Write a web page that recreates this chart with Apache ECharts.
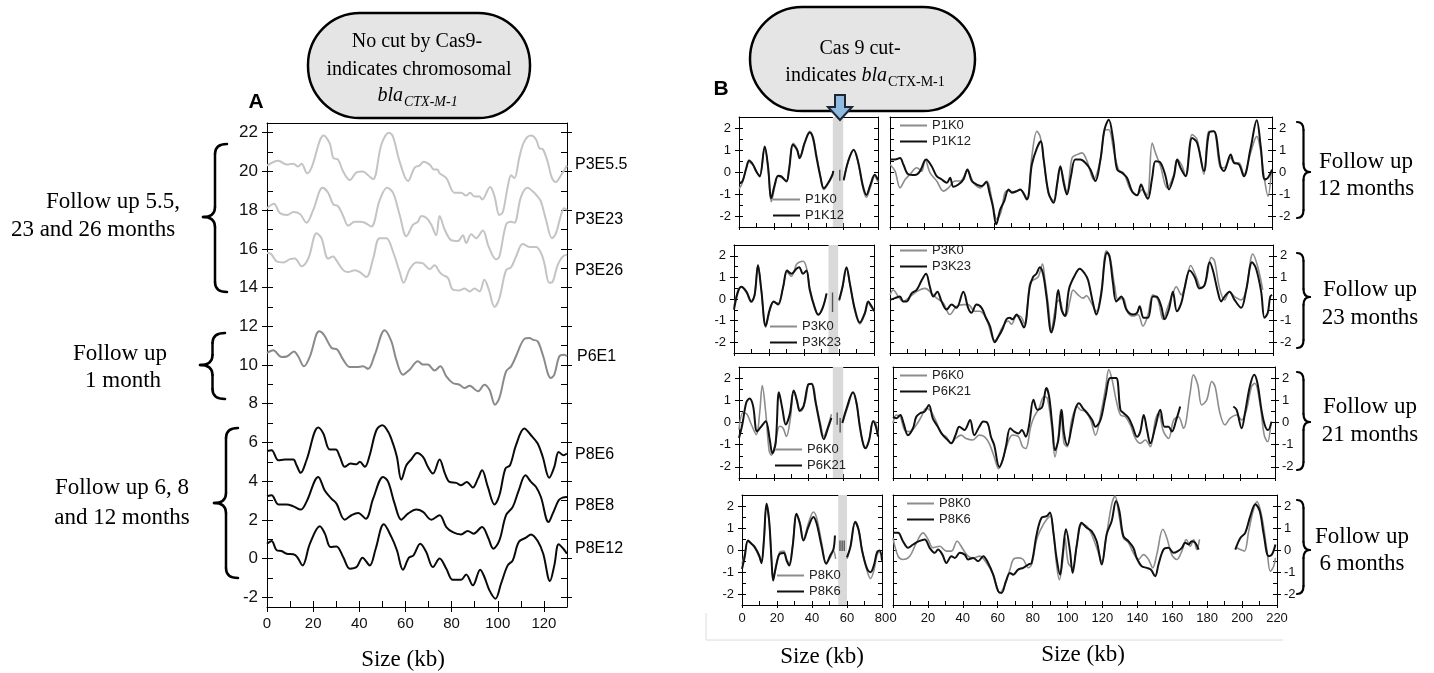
<!DOCTYPE html>
<html><head><meta charset="utf-8">
<script src="https://cdn.jsdelivr.net/npm/echarts@6/dist/echarts.min.js"></script>
<style>html,body{margin:0;padding:0;background:#fff}#c{width:1434px;height:673px}</style>
</head><body><div id="c"></div>
<script>
// ---------- Tick labels ----------
const A_X_MAJOR = [0,20,40,60,80,100,120];
const A_X_MINOR = [10,20,30,40,50,60,70,80,90,100,110,120];
const A_Y_MAJOR = [-2,0,2,4,6,8,10,12,14,16,18,20,22];
const A_Y_MINOR = [-2,-1,0,1,2,3,4,5,6,7,8,9,10,11,12,13,14,15,16,17,18,19,20,21,22];
const B_Y_MAJOR = [-2,-1,0,1,2];
const B_Y_MINOR = [-2,-1.5,-1,-0.5,0,0.5,1,1.5,2];
const BL_X_MAJOR = [0,20,40,60,80];
const BL_X_MINOR = [10,20,30,40,50,60,70];
const BR_X_MAJOR = [0,20,40,60,80,100,120,140,160,180,200,220];
const BR_X_MINOR = [10,20,30,40,50,60,70,80,90,100,110,120,130,140,150,160,170,180,190,200,210];

// ---------- Panel A series ----------
const P3E55 = [[0,20.3],[4.9,20.55],[8.5,20.35],[11.4,20.4],[13.5,20.25],[15,20.4],[17.4,19.9],[19.3,20.2],[24.6,21.85],[27.2,21.45],[28.7,20.7],[30.8,20.6],[33,20.0],[35.9,19.55],[38.8,19.95],[41.6,20.0],[43.8,19.8],[46,19.6],[49.6,21.4],[52.9,22.0],[54.6,21.8],[57.5,20.5],[61.1,19.5],[64,20.2],[66.1,20.3],[67.9,20.5],[70.5,20.35],[72.3,20.1],[73.8,20.1],[74.8,19.9],[77.7,19.65],[81.3,18.9],[84.1,18.9],[86.3,18.75],[88,18.9],[89.9,18.7],[92.1,18.7],[93.2,18.55],[96.7,19.2],[98.6,18.7],[100.7,17.75],[102.2,17.9],[104.3,19.2],[105.8,19.8],[107.2,19.65],[109.4,20.75],[111.5,21.55],[114.4,21.85],[116.6,21.65],[118,21.2],[119.5,21.15],[121.6,20.5],[123.5,19.65],[125.2,19.45],[127.4,19.8],[129.5,20.2],[130,20.3]];
const P3E23 = [[0,18.1],[3,18.33],[5.6,17.85],[8.8,17.75],[11.4,17.9],[14.3,17.8],[17.1,17.35],[20,18.0],[24.1,19.15],[26.5,18.9],[28.7,18.3],[30.8,18.2],[33,17.7],[35.2,17.2],[38,17.4],[40.2,17.4],[42.4,17.35],[45.2,17.15],[48.8,18.5],[52,19.15],[54.6,18.9],[57.5,17.75],[60.4,16.65],[63.3,17.25],[65.4,17.4],[66.9,17.7],[69,17.6],[71.2,17.25],[73.3,16.7],[74.8,17.7],[77,17.0],[79.8,16.45],[82.7,16.4],[84.9,16.7],[86.3,16.3],[88.5,16.75],[90.6,16.55],[93.5,16.95],[96.1,16.1],[99.3,15.45],[100.7,15.6],[103.6,17.25],[105.8,17.4],[107.2,17.35],[110.1,18.7],[113,19.15],[115.1,18.97],[117.3,18.7],[118.7,18.45],[120.9,17.5],[123.5,16.55],[125.2,16.8],[127.4,17.75],[128.8,18.1],[130,18.0]];
const P3E26 = [[0,15.78],[1.7,15.74],[4.2,15.35],[7.1,15.3],[9.9,15.47],[12.1,15.5],[15,15.1],[17.9,15.5],[21.5,16.8],[23.6,16.55],[26.5,15.5],[28.7,15.6],[30.1,15.4],[33,14.9],[35.2,14.8],[38,14.9],[40.2,14.8],[43.1,14.55],[46,15.5],[48.8,16.55],[51.7,16.55],[54.6,15.85],[57.5,14.8],[59.2,14.25],[61.8,14.95],[64.7,15.3],[67.6,15.25],[70.5,14.95],[72.6,15.15],[74.8,14.8],[76.2,14.65],[78.4,14.5],[80.5,13.9],[83.4,13.85],[85.6,13.95],[87.8,13.8],[89.9,13.95],[92.1,13.8],[94.2,14.4],[96.1,13.9],[98.6,13.0],[100.7,13.45],[103.6,14.9],[105.8,15.05],[107.9,15.6],[110.8,16.25],[113.7,16.1],[116.6,16.1],[118.7,15.8],[120.2,15.25],[122.3,14.25],[123.8,14.3],[125.9,15.15],[128.1,15.6],[130,15.7]];
const P6E1 = [[0,10.62],[2.7,10.76],[6.3,10.41],[8.8,10.45],[11.7,10.7],[13.5,10.45],[16,9.93],[18.6,10.45],[22.6,11.74],[24.6,11.57],[28,10.88],[30.4,10.8],[33,10.28],[35.9,9.9],[38.8,9.9],[41.6,9.93],[43.8,9.8],[46.7,10.53],[51,11.8],[53.9,11.22],[56,10.28],[58.9,9.5],[61.8,9.76],[65.4,10.2],[67.6,10.02],[69.7,10.02],[72.6,9.72],[75.1,9.93],[77.7,9.41],[80.5,9.07],[83.4,8.98],[85.6,8.81],[87.8,8.93],[91.4,8.64],[94.2,8.98],[96.4,8.72],[98.8,7.95],[100.7,8.3],[103.6,9.67],[105.8,9.93],[107.9,10.45],[111.5,11.35],[113.7,11.4],[115.1,11.31],[117.3,11.22],[119.5,10.53],[123,9.33],[124.5,9.5],[126.7,10.45],[128.8,10.53],[130,10.45]];
const P8E6 = [[0,5.56],[2,5.6],[4.9,5.08],[7.8,5.12],[11.4,5.12],[12.8,4.82],[14.6,4.43],[17.1,5.08],[22.2,6.77],[24.4,6.46],[27.2,5.63],[29.8,5.63],[31.6,5.25],[33.7,4.74],[36.2,4.91],[38.8,4.87],[40.2,5.0],[42.4,4.74],[44.5,5.34],[47.4,6.63],[50,6.89],[52.5,6.55],[54.6,5.94],[56.3,5.25],[58.2,4.08],[60.4,4.82],[62.5,5.12],[65,5.46],[67.6,5.25],[69.7,4.74],[71.9,4.39],[74.8,5.12],[77,4.43],[79.1,3.96],[82,3.91],[84.1,3.79],[86.6,3.96],[89.2,3.67],[91.4,4.13],[93.2,4.56],[95.7,3.7],[98.6,2.8],[100.7,3.27],[103.3,4.65],[105.3,4.82],[107.9,5.86],[111.5,6.72],[114.4,6.37],[117.3,5.94],[119.5,5.25],[122.3,4.18],[124.5,4.74],[126.4,5.51],[128.4,5.34],[130,5.43]];
const P8E8 = [[0,3.22],[2,3.27],[4.9,2.8],[8.5,2.8],[11.4,2.7],[14.6,2.53],[17.1,2.93],[22.2,4.22],[25.1,3.5],[27.9,3.1],[30.1,2.84],[33.7,2.01],[36.6,2.24],[39.5,2.36],[42.8,2.06],[46,3.1],[50.3,4.22],[52.5,3.96],[55.3,2.84],[58.2,2.01],[61.1,2.32],[64.7,2.53],[67.6,2.41],[71.2,2.01],[74.8,2.24],[77.7,1.63],[80.5,1.37],[84.1,1.25],[87,1.43],[89.5,1.29],[93.2,1.63],[95.7,1.12],[98.1,0.51],[100.7,0.94],[103.6,2.24],[106.5,2.67],[109.1,3.53],[112,4.3],[114.4,3.96],[116.6,3.7],[118.7,3.18],[122,1.89],[123.8,2.32],[126.4,3.01],[128.1,3.15],[130,3.18]];
const P8E12 = [[0,0.77],[2,0.91],[4.2,0.43],[6.3,0.39],[8.5,0.25],[11.4,0.22],[13.1,0.08],[15.4,-0.35],[18.6,0.77],[22.9,1.67],[25.1,1.29],[27.5,0.6],[30.1,0.63],[33,0.08],[35.9,-0.52],[38.8,-0.44],[41.4,0.05],[44.5,-0.35],[47.1,0.51],[50.6,1.77],[53.9,1.12],[56.3,0.43],[58.9,-0.57],[61.5,0.05],[63.5,0.17],[66.4,0.77],[69,0.34],[71.9,-0.44],[74.8,0],[77.7,-0.52],[80.5,-1.09],[84.1,-1.09],[86.3,-0.82],[89.2,-1.38],[92.4,-0.57],[94.2,-0.95],[96.4,-1.64],[99,-2.07],[101.4,-1.3],[104.3,-0.35],[106.5,-0.09],[109.1,0.86],[112.2,1.08],[114.4,1.25],[117.3,0.91],[119.7,0.25],[122.6,-1.16],[124.5,-0.35],[126.4,0.74],[128.4,0.51],[130,0.25]];

// ---------- Panel B series (left: 0-80 kb, right: 0-220 kb) ----------
const P1K0_L = [[0,-0.78],[1.9,-0.5],[4.2,0.2],[5.8,0.45],[8.1,0.3],[10,0.0],[11.9,-0.15],[14.8,1.1],[16.7,0.2],[18.6,-1.35],[20.5,-0.7],[22.5,-0.2],[24.4,-0.25],[27.3,-0.4],[28.8,0.15],[31.1,1.3],[33.4,1.05],[34.9,0.68],[37.8,1.35],[40.7,1.85],[42.6,1.6],[44.5,0.8],[46.8,-0.15],[48.8,-0.8],[51.2,-0.55],[53.7,-0.2],[54.3,-0.05],[56,null],[60.3,-0.4],[62.8,0.45],[66,1.0],[68.5,0.45],[71.4,-0.75],[73.3,-1.15],[75.6,-0.7],[78.1,-0.2],[80,-0.45]];
const P1K12_L = [[0,-0.48],[1.9,-0.43],[4.2,0.17],[5.8,0.52],[8.1,0.33],[10,0.02],[11.9,-0.2],[14.8,1.16],[16.7,0.25],[18.6,-1.19],[20.5,-0.59],[22.5,-0.17],[24.4,-0.2],[27.3,-0.43],[28.8,0.1],[31.1,1.24],[33.4,1.01],[34.9,0.63],[37.8,1.32],[40.7,1.8],[42.6,1.54],[44.5,0.71],[46.8,-0.2],[48.8,-0.74],[51.2,-0.51],[53.7,-0.13],[54.3,0.05],[56,null],[60.3,-0.36],[62.8,0.48],[66,1.01],[68.5,0.48],[71.4,-0.66],[73.3,-1.04],[75.6,-0.59],[78.1,-0.13],[80,-0.36]];
const P1K0_R = [[0,0.34],[2.9,0.04],[5.8,-0.72],[8.7,-0.34],[11.5,-0.11],[15.4,0.19],[18.3,0.04],[20.2,0.57],[23.1,-0.04],[26.9,-0.41],[30.8,-0.87],[33.7,-0.72],[37.5,-0.41],[40.4,-0.41],[44.6,0.04],[48.1,-0.49],[51.9,-0.72],[55.8,-0.41],[58.7,-1.25],[61.5,-2.15],[63.8,-1.85],[67.3,-0.85],[71.2,-0.9],[75,-0.8],[78.8,-1.2],[81.7,0.72],[84.6,1.85],[86.5,1.6],[88.5,0.55],[91.3,-1.0],[94.2,-1.3],[98.1,0.2],[101.9,-0.9],[104.8,0.64],[107.7,0.79],[110.6,0.87],[113.5,0.49],[117.3,-0.34],[121.2,0.57],[124,1.92],[126,1.92],[128.8,1.0],[131.7,0.1],[134.6,-0.05],[138.5,-0.8],[142.3,-1.05],[145.2,-0.8],[148.1,-1.05],[151,1.32],[152.9,0.87],[155.8,0.26],[159.6,-0.72],[163.5,-0.1],[165.4,0.57],[168.3,0.26],[170.2,-0.19],[174,1.7],[176.9,1.47],[180.8,-0.1],[183.7,1.85],[186.5,1.85],[190.4,0.19],[192.3,0.19],[196.2,0.64],[198.1,0.42],[201,0.42],[203.8,-0.11],[207.7,0.87],[211.2,1.62],[213.5,0.94],[215.4,-0.19],[217.7,-1.1],[219.6,0.0]];
const P1K12_R = [[0,0.57],[2.9,0.57],[5.8,0.64],[7.7,0.34],[10.6,-0.11],[14.4,-0.14],[17.3,0.04],[20.8,0.57],[24,0.26],[26.9,-0.19],[29.8,-0.34],[32.7,-0.49],[34.6,-0.26],[36.5,-0.67],[39.4,-0.57],[42.3,-0.34],[44.6,0.11],[47.1,-0.41],[50,-0.57],[52.9,-0.64],[55.4,-0.46],[57.3,-0.94],[59.2,-1.55],[61.2,-2.38],[63.5,-1.7],[65.8,-1.32],[68.3,-0.79],[70.2,-0.94],[73.1,-0.87],[75,-0.79],[78.8,-1.25],[81.7,0.34],[84.6,1.09],[86.9,1.4],[88.5,0.57],[91.3,-0.94],[94.2,-1.4],[96.2,-0.57],[98.1,0.26],[100,-0.49],[101.9,-1.02],[104.2,-0.19],[106.7,0.57],[109.6,0.57],[112.5,0.42],[115.4,0.11],[118.3,-0.41],[121.2,0.57],[123.5,1.92],[126,2.38],[128.5,1.47],[130.8,0.11],[133.7,-0.04],[136.5,-0.26],[139.4,-0.87],[142.3,-1.06],[144.6,-0.57],[146.5,-0.94],[148.5,-1.22],[151,-0.26],[152.9,0.49],[155.8,0.42],[158.7,-0.19],[160.6,-0.79],[163.5,-0.19],[165.4,0.57],[167.3,0.19],[170.2,-0.19],[174,1.55],[176.9,1.32],[180.8,0.04],[183.7,1.77],[186.5,1.85],[190.4,0.26],[192.3,0.04],[196.2,0.79],[198.1,0.42],[201,0.34],[203.8,-0.19],[207.7,1.09],[211.2,2.35],[213.5,1.17],[215.8,-0.34],[217.7,-0.26],[220,0.11]];

const P3K0_L = [[0,-0.35],[2.3,0.4],[4.2,0.55],[7.1,0.3],[9.9,-0.15],[11.8,0.2],[13.7,1.6],[15.6,0.4],[18.1,-1.3],[20.4,-0.55],[22.7,-0.15],[25.2,-0.2],[28.1,0.55],[30.3,1.25],[32.8,1.05],[35.7,1.6],[37.2,1.7],[39.5,1.75],[41.4,1.45],[43.3,0.5],[46.2,-0.4],[48.1,-0.75],[50.6,-0.45],[52.9,0.2],[55,null],[60.1,-0.1],[62,0.5],[64.3,1.45],[66.2,0.7],[69.1,-0.55],[71.9,-1.15],[74.8,-0.7],[76.7,-0.2],[78.6,-0.4],[80,-0.6]];
const P3K23_L = [[0,-0.49],[2.3,0.34],[4.2,0.57],[7.1,0.34],[9.9,-0.11],[11.8,0.19],[13.7,1.55],[15.6,0.42],[18.1,-1.25],[20.4,-0.49],[22.7,-0.11],[25.2,-0.26],[28.1,0.57],[30.3,1.32],[32.8,1.17],[35.7,1.4],[37.2,1.47],[39.5,1.17],[41.4,1.32],[43.3,0.42],[46.2,-0.42],[48.1,-0.72],[50.6,-0.42],[52.9,0.26],[55,null],[60.1,-0.04],[62,0.57],[64.3,1.47],[66.2,0.72],[69.1,-0.49],[71.9,-1.09],[74.8,-0.64],[76.7,-0.11],[78.6,-0.34],[80,-0.55]];
const P3K0_R = [[0,0.19],[1.9,0.42],[4.8,0.11],[7.6,-0.11],[10.5,0.04],[15.3,0.34],[20.1,0.49],[23.9,0.26],[26.8,0.04],[30.6,-0.19],[34.4,-0.72],[38.2,-0.34],[42.1,-0.26],[44.9,-0.26],[48.8,-0.57],[51.6,-0.57],[55.4,-0.94],[60.2,-1.92],[65,-1.25],[67.9,-1.02],[69.8,-1.17],[72.7,-0.79],[74.6,-0.79],[77.4,-1.17],[80.3,0.72],[82.2,0.87],[85.1,1.02],[87.6,1.62],[88.9,0.94],[90.8,-0.19],[92.7,-1.4],[95.6,-0.19],[97.5,-0.04],[99.4,-0.64],[101,-0.79],[103.3,-0.11],[105.2,0.42],[108,0.19],[110.9,0.04],[112.8,0.15],[115.7,-0.19],[118.5,-0.57],[121.4,0.42],[124.3,2.23],[126.2,2.0],[129.1,0.57],[131,-0.04],[133.8,0.04],[136.7,-0.64],[139.6,-0.79],[142.4,-0.72],[145.3,-1.25],[148.2,-0.72],[151,0.19],[153.9,-0.04],[156.8,-0.94],[159.7,-0.34],[162.5,0.26],[164.4,0.57],[167.3,0.19],[170.2,0.87],[172.7,1.55],[175.9,1.02],[178.8,0.49],[181.6,0.87],[184.5,1.92],[186.4,1.77],[189.3,0.49],[192.2,-0.04],[195,0.34],[197.9,0.11],[201.7,-0.04],[204.6,0.42],[208.4,2.08],[211.3,1.47],[214.1,0.42]];
const P3K23_R = [[0,-0.04],[2.9,0.04],[5.7,0.11],[7.6,-0.11],[9.6,-0.11],[12.4,0.26],[15.3,0.42],[18.2,0.87],[20.7,1.17],[22.9,0.57],[24.9,0.11],[27.2,0.34],[29.6,-0.11],[32.5,-0.49],[35.4,-0.26],[38.2,-0.41],[42.1,0.34],[44.9,-0.41],[46.8,-0.64],[49.7,-0.26],[52.6,-0.41],[55.1,-0.87],[57.4,-1.25],[60.2,-2.0],[62.1,-1.77],[64.6,-1.4],[66.9,-0.94],[68.8,-0.87],[70.4,-0.94],[72.7,-0.72],[74.6,-0.94],[76.9,-1.32],[80.3,0.57],[82.2,1.02],[84.1,1.17],[86,1.47],[87.9,1.17],[89.9,0.11],[92.7,-1.55],[94.6,-0.94],[96.6,0.42],[98.5,-0.49],[100.4,-0.79],[102.9,0.49],[106.1,1.09],[109,1.4],[111.9,1.17],[113.8,0.87],[116.6,-0.19],[118.5,-0.72],[121.4,0.26],[123.3,1.77],[124.7,2.15],[126.2,1.92],[128.1,0.72],[130,-0.11],[132.9,0.11],[135.8,-0.49],[139.6,-0.72],[141.9,-0.64],[143.4,-0.34],[145.7,-0.87],[148.2,-0.87],[151,0.11],[153,0.11],[155.8,-0.34],[157.7,-0.94],[160.2,-0.49],[162.5,0.34],[164.8,-0.57],[167.3,-0.19],[169.2,0.49],[172.1,1.32],[175,1.02],[177.8,0.49],[180.7,0.64],[183.6,1.7],[185.5,1.32],[188.3,0.34],[190.2,-0.11],[192.2,0.11],[195,0.34],[197.9,-0.04],[201.7,-0.41],[204.6,0.42],[208,1.7],[210.3,1.4],[213.2,0.34],[215.1,-0.87],[217,-0.64],[218.4,0.11],[219.5,0.19]];

const P6K0_L = [[0,-0.32],[2.3,0.44],[4.6,0.37],[7.1,-0.09],[10,-0.55],[11.9,0.44],[13.4,1.66],[15.4,0.44],[17.3,-1.24],[18.6,-1.47],[20.5,-1.08],[23.4,-0.17],[25.3,-0.25],[27.3,-0.63],[29.6,0.21],[31.5,1.44],[34,0.75],[35.9,0.52],[38.4,1.05],[40.3,1.74],[42.2,1.74],[44.5,0.82],[46.8,-0.02],[48.8,-0.63],[51.2,-0.17],[53.2,0.37],[56,null],[59.9,0.06],[62.8,0.75],[65.6,1.36],[67.6,0.85],[69.5,-0.1],[72.4,-1.16],[74.9,-0.8],[77.2,0.06],[78.7,0.0],[80,-0.55]];
const P6K21_L = [[0,-0.7],[1.9,-0.09],[4.2,0.9],[6.1,1.08],[8.1,0.75],[10.4,-0.4],[12.9,-0.17],[15.4,0.06],[17.7,-0.78],[19.2,-1.39],[21.1,-0.93],[23,1.36],[25,0.6],[26.9,-0.09],[29.2,0.37],[31.5,1.44],[33.4,0.98],[34.9,0.52],[37.2,0.75],[39.7,1.69],[41.7,1.74],[44.1,0.9],[46.4,-0.02],[48.8,-0.75],[51.2,-0.25],[53.2,0.21],[56,null],[59.5,-0.02],[61.8,0.6],[65.6,1.36],[67.6,0.9],[69.5,-0.17],[71.4,-0.93],[72.9,-1.16],[74.9,-0.78],[77.2,0.06],[78.7,-0.17],[80,-0.63]];
const P6K0_R = [[0,-0.04],[1.9,0.34],[4.2,0.26],[6.7,-0.34],[9.6,-0.41],[13.4,-0.11],[16.3,0.26],[19.1,0.64],[22,0.49],[24.9,0.04],[27.7,-0.49],[30.6,-0.64],[33.5,-0.94],[36,-0.72],[39.2,-0.57],[42.1,-0.72],[45.9,-0.79],[49.7,-0.57],[52.6,-0.64],[55.4,-0.94],[58.3,-1.55],[60.8,-2.08],[63.1,-1.7],[66,-0.94],[68.8,-0.57],[72.3,-0.64],[74.6,-1.09],[76.5,-1.17],[79.3,-0.19],[81.3,0.26],[84.1,0.64],[87,1.17],[88.9,1.09],[91.4,-0.19],[93.3,-1.55],[95.2,-0.64],[96.6,0.57],[98.5,-0.94],[100.4,-1.09],[102.9,0.11],[106.1,0.72],[108,0.57],[110.9,0.49],[113.8,0.11],[116.6,-0.57],[120.1,0.57],[122.4,1.55],[124.3,2.38],[126.2,1.92],[128.5,1.02],[131,0.34],[133.8,0.26],[136.7,-0.11],[139.6,-0.72],[142.4,-0.94],[145.3,-0.79],[148.2,-1.09],[151.1,0.11],[153,0.42],[155.8,-0.41],[158.7,-0.72],[161.6,0.11],[164.4,0.26],[167.3,-0.26],[171.1,1.32],[173,2.15],[175.5,1.7],[177.8,0.79],[180.7,1.02],[183.6,1.85],[185.5,1.62],[188.3,0.42],[191.2,-0.11],[194.1,0.19],[197.9,0.34],[200.8,0.11],[203.6,0.57],[206.5,1.62],[208.4,1.77],[211.3,0.87],[213.8,-0.57],[215.7,-0.87],[217.6,-0.04]];
const P6K21_R = [[0,0.26],[1.9,0.19],[4.2,0.34],[6.1,-0.04],[8.6,-0.57],[11.5,-0.26],[13.4,0.26],[15.7,0.42],[18.2,0.49],[20.7,0.79],[22.9,0.19],[25.8,-0.19],[28.7,-0.57],[31.5,-0.79],[33.5,-0.94],[36,-0.57],[38.2,-0.19],[41.1,-0.34],[44.4,0.11],[46.8,-0.57],[49.7,-0.19],[52,0.04],[54.5,-0.04],[56.4,-0.64],[58.3,-1.02],[61.2,-2.0],[63.1,-1.7],[65,-1.09],[67.5,-0.26],[69.8,-0.41],[72.3,-0.49],[74.2,-0.34],[76.5,-0.64],[78.4,-0.11],[80.9,1.02],[83.2,0.57],[86,0.72],[88.3,1.55],[89.9,1.17],[91.8,-0.19],[93.3,-1.25],[95.2,-0.79],[97.1,0.57],[98.5,-0.49],[100.4,-1.02],[102.9,-0.19],[105.2,0.64],[107.1,0.87],[109.4,0.64],[111.9,0.42],[114.7,0.11],[116.6,-0.19],[119.5,0.11],[122.4,1.17],[125.2,2.0],[128.5,2.0],[131,0.57],[132.9,0.42],[135.8,0.19],[138,-0.19],[140.5,-0.64],[142.4,-0.41],[144.4,0.34],[146.3,-0.34],[148.2,-0.94],[151.1,-0.19],[153.9,0.57],[156.4,-0.19],[158.7,-0.19],[160.6,-0.41],[163.1,0.11],[165.4,0.72],[180,null],[196,0.72],[197.9,0.57],[200.8,-0.26],[202.7,0.42],[205.5,1.62],[208,2.15],[209.9,1.77],[212.2,0.57],[214.1,-0.11],[216,-0.34],[218,0.04]];

const P8K0_L = [[0,-0.63],[1.5,-0.2],[3.4,0.4],[5.4,0.3],[7.3,0.1],[9.8,-0.3],[11.1,-0.55],[12.5,0.4],[14,2.0],[15.5,1.3],[16.9,-0.5],[17.8,-1.3],[19.3,-0.85],[21.6,-0.1],[23.9,-0.05],[25.5,-0.4],[27,-0.6],[28.9,0.2],[31.2,1.6],[33.1,1.25],[35.1,0.5],[37.9,1.2],[40.8,1.73],[42.7,1.45],[45.6,0.3],[48.1,-0.6],[50.4,-0.35],[52.3,-0.05],[53.5,-0.4],[55,null],[60,-0.4],[61.9,0.1],[64.7,1.3],[66.7,0.95],[68.6,0.0],[71.5,-0.95],[73.4,-1.3],[75.3,-0.95],[77.2,-0.2],[78.7,-0.1],[80,-0.3]];
const P8K6_L = [[0,-0.86],[1.5,-0.33],[3.4,0.43],[5.4,0.28],[7.3,0.13],[9.8,-0.25],[11.1,-0.6],[12.5,0.43],[14,2.1],[15.5,1.35],[16.9,-0.48],[17.8,-1.39],[19.3,-0.78],[21.6,-0.17],[23.9,-0.14],[25.5,-0.48],[27,-0.71],[28.9,0.13],[31.2,1.65],[33.1,1.19],[35.1,0.43],[37.9,1.04],[40.8,1.5],[42.7,1.19],[45.6,0.13],[48.1,-0.63],[50.4,-0.25],[52.3,0.05],[53.1,0.66],[55,null],[60,-0.33],[61.9,0.13],[64.7,1.27],[66.7,0.89],[68.6,-0.02],[71.5,-0.86],[73.4,-1.01],[75.3,-0.71],[77.2,-0.1],[78.7,-0.02],[80,-0.48]];
const P8K0_R = [[0,0.55],[2.9,-0.28],[5.7,-0.43],[9.6,-0.28],[13.4,0.33],[17.2,0.78],[20.1,0.48],[22.9,0.1],[26.8,0.17],[30.6,-0.05],[33.5,-0.05],[36.7,0.4],[40.2,0.02],[43,-0.28],[45.9,-0.36],[49.7,-0.28],[53.6,-0.59],[57.4,-1.12],[61.2,-1.95],[64.1,-1.57],[67,-0.89],[68.9,-0.43],[71.7,-0.36],[74.6,-0.43],[77.5,-0.81],[79.4,-0.66],[82.3,0.48],[85.1,1.01],[88,1.39],[90.3,1.54],[92.2,0.55],[93.7,-0.66],[95.3,-1.35],[97.2,-0.51],[98.5,0.55],[100.4,-0.59],[102.9,-0.81],[105.6,0.4],[108.1,1.16],[111,1.09],[113.8,0.71],[116.7,0.1],[119.6,-0.51],[122.4,0.71],[125.3,2.08],[127.2,2.45],[129.7,1.47],[132,0.55],[134.9,0.33],[137.7,-0.13],[140.6,-0.43],[143.5,-0.21],[146.4,-0.43],[148.8,-0.81],[151.1,-0.21],[154.6,0.94],[156.9,0.55],[159.7,-0.21],[162.6,-0.43],[165.5,-0.05],[168,0.48],[170.3,0.17],[172.2,0.48],[174.1,0.02],[175.6,0.48],[186,null],[196.7,0.1],[199,0.02],[201.3,-0.05],[203.8,0.86],[206.3,1.77],[208.5,2.2],[211.4,1.47],[214.3,-0.05],[216.2,-0.97],[218.1,-0.74],[219.1,-0.36]];
const P8K6_R = [[0,0.78],[2.9,0.78],[5.7,0.4],[8.6,0.1],[11.5,0.25],[14.9,0.4],[18.2,0.48],[21,0.1],[23.9,-0.13],[25.8,0.02],[28.3,-0.21],[30.6,-0.59],[33.5,-0.28],[35.4,-0.36],[38.3,-0.13],[41.1,-0.21],[43,-0.43],[45.9,-0.36],[48.8,-0.51],[51.7,-0.28],[54.5,-0.59],[57.4,-1.12],[60.3,-1.88],[62.2,-1.95],[64.7,-1.42],[67,-1.04],[68.9,-1.12],[71.7,-0.89],[74.6,-0.81],[77.5,-0.66],[79.4,-0.59],[82.3,0.71],[85.1,1.47],[88,1.54],[89.9,1.7],[91.8,0.86],[93.7,-0.36],[95.7,-1.12],[97.2,-0.21],[99.1,0.94],[101.4,-0.05],[102.9,-1.04],[105.2,0.17],[108.1,1.24],[111,1.01],[113.8,0.86],[116.7,0.4],[119.6,-0.66],[122.4,0.71],[125.3,1.32],[127.8,2.23],[129.7,1.77],[132,0.63],[134.9,0.4],[137.7,0.1],[139.6,-0.36],[142.5,-0.74],[145.4,-0.81],[147.7,-0.89],[150.2,-1.19],[152.1,-0.66],[155,0.02],[157.8,0.1],[160.7,-0.13],[163.2,-0.05],[165.5,0.1],[167.4,0.33],[169.3,0.25],[171.2,0.4],[173.1,0.33],[175.1,0.02],[185,null],[196.1,0.02],[199,0.55],[201.8,0.78],[204.7,1.54],[207.6,2.08],[210.1,1.77],[212.4,0.71],[215.2,-0.28],[217.1,-0.21],[219.1,0.25]];

// Cas9 cut window (kb) and residual marks inside it, per row of panel B
const CUT_BAND = [[54,60],[54,59.5],[54,60],[55,60]];
const CUT_MARKS = [
  [[58,0.1],[58,-0.4]],
  [[56.3,0.3],[56.3,-0.6]],
  [[56.5,0.45],[56.5,-0.1],[56.5,null],[58.2,0.2],[58.2,-0.45]],
  [[56,0.43],[56,-0.05],[56,null],[57.2,0.43],[57.2,-0.05],[57.2,null],[58.4,0.43],[58.4,-0.05]]
];
const B_ROWS = [
  {ref:'P1K0', fol:'P1K12', refL:P1K0_L, folL:P1K12_L, refR:P1K0_R, folR:P1K12_R},
  {ref:'P3K0', fol:'P3K23', refL:P3K0_L, folL:P3K23_L, refR:P3K0_R, folR:P3K23_R},
  {ref:'P6K0', fol:'P6K21', refL:P6K0_L, folL:P6K21_L, refR:P6K0_R, folR:P6K21_R},
  {ref:'P8K0', fol:'P8K6', refL:P8K0_L, folL:P8K6_L, refR:P8K0_R, folR:P8K6_R}
];

// ---------- Layout ----------
const SANS = 'Liberation Sans, Arial, sans-serif';
const SERIF = 'Liberation Serif, Times New Roman, serif';
const LINE = {color:'#000', width:1};
const grids = [
  {left:267, top:123, width:300, height:484},
  {left:739, top:117, width:139, height:110}, {left:890, top:117, width:382, height:110},
  {left:734, top:245, width:140, height:108}, {left:890, top:245, width:383, height:108},
  {left:739, top:367, width:139, height:111}, {left:893, top:367, width:382, height:111},
  {left:742, top:495, width:140, height:110}, {left:893, top:495, width:384, height:110}
].map(g => Object.assign({outerBoundsMode:'none', containLabel:false, show:false}, g));

const xAxes = [], yAxes = [];
const NOLINE = {show:false, onZero:false};
const FRAME = {show:true, onZero:false, lineStyle:LINE};
function addX(gi, min, max, majors, minors, showLabels, fs, margin, outLen, inLen){
  const idx = xAxes.length;
  xAxes.push({type:'value', gridIndex:gi, min, max, position:'bottom',
    axisLine:FRAME, splitLine:{show:false},
    axisTick:{show:true, inside:false, length:outLen, customValues:majors, lineStyle:LINE},
    axisLabel:{show:showLabels, customValues:majors, fontSize:fs, fontFamily:SANS, color:'#111', margin}});
  xAxes.push({type:'value', gridIndex:gi, min, max, position:'bottom',
    axisLine:NOLINE, splitLine:{show:false},
    axisTick:{show:true, inside:true, length:inLen, customValues:minors, lineStyle:LINE},
    axisLabel:{show:false}});
  xAxes.push({type:'value', gridIndex:gi, min, max, position:'top',
    axisLine:FRAME, splitLine:{show:false},
    axisTick:{show:false}, axisLabel:{show:false}});
  return idx;
}
function addY(gi, min, max, majors, minors, side, fs, margin, outLen, inLen, oppOut){
  const idx = yAxes.length;
  const opp = side === 'left' ? 'right' : 'left';
  yAxes.push({type:'value', gridIndex:gi, min, max, position:side,
    axisLine:FRAME, splitLine:{show:false},
    axisTick:{show:true, inside:false, length:outLen, customValues:majors, lineStyle:LINE},
    axisLabel:{show:true, customValues:majors, fontSize:fs, fontFamily:SANS, color:'#111', margin}});
  yAxes.push({type:'value', gridIndex:gi, min, max, position:side,
    axisLine:NOLINE, splitLine:{show:false},
    axisTick:{show:true, inside:true, length:inLen, customValues:minors, lineStyle:LINE},
    axisLabel:{show:false}});
  yAxes.push({type:'value', gridIndex:gi, min, max, position:opp,
    axisLine:FRAME, splitLine:{show:false},
    axisTick:{show:true, inside:true, length:inLen, customValues:minors, lineStyle:LINE},
    axisLabel:{show:false}});
  if (oppOut) yAxes.push({type:'value', gridIndex:gi, min, max, position:opp,
    axisLine:NOLINE, splitLine:{show:false},
    axisTick:{show:true, inside:false, length:outLen, customValues:majors, lineStyle:LINE},
    axisLabel:{show:false}});
  return idx;
}

const series = [];
function line(name, data, color, width, xi, yi, z){
  return {type:'line', name, data, xAxisIndex:xi, yAxisIndex:yi, showSymbol:false, symbol:'none',
    smooth:0.35, connectNulls:false, color, itemStyle:{color}, lineStyle:{color, width}, silent:true, z};
}

// Panel A
const axA = addX(0, 0, 130, A_X_MAJOR, A_X_MINOR, true, 15, 9, 5, 6);
const ayA = addY(0, -2.5, 22.5, A_Y_MAJOR, A_Y_MINOR, 'left', 17, 9, 5, 6, true);
const A_SERIES = [
  ['P3E5.5', P3E55, '#c4c4c4'], ['P3E23', P3E23, '#c4c4c4'], ['P3E26', P3E26, '#c4c4c4'],
  ['P6E1', P6E1, '#8a8a8a'],
  ['P8E6', P8E6, '#0a0a0a'], ['P8E8', P8E8, '#0a0a0a'], ['P8E12', P8E12, '#0a0a0a']
];
A_SERIES.forEach(s => series.push(line(s[0], s[1], s[2], 2, axA, ayA, 2)));

// Panel B
const legends = [];
const LEG_L = [[773,192],[770,319],[775,442],[777,568]];
const LEG_R = [[900,118],[900,243],[900,368],[907,496]];
B_ROWS.forEach((r, i) => {
  const gL = 1 + i*2, gR = 2 + i*2, last = i === 3;
  const xl = addX(gL, 0, 80, BL_X_MAJOR, BL_X_MINOR, last, 13, 7, 3, 4);
  const yl = addY(gL, -2.5, 2.5, B_Y_MAJOR, B_Y_MINOR, 'left', 13, 8, 4, 4, false);
  const xr = addX(gR, 0, 220, BR_X_MAJOR, BR_X_MINOR, last, 13, 7, 3, 4);
  const yr = addY(gR, -2.5, 2.5, B_Y_MAJOR, B_Y_MINOR, 'right', 13, 7, 4, 4, false);
  series.push({type:'line', data:[], xAxisIndex:xl, yAxisIndex:yl, silent:true, z:1,
    markArea:{silent:true, itemStyle:{color:'#d9d9d9'}, data:[[{xAxis:CUT_BAND[i][0]},{xAxis:CUT_BAND[i][1]}]]}});
  series.push(line(r.ref, r.refL, '#8c8c8c', 1.6, xl, yl, 2));
  series.push(line(r.fol, r.folL, '#111', 2, xl, yl, 3));
  series.push(line(r.ref, r.refR, '#8c8c8c', 1.6, xr, yr, 2));
  series.push(line(r.fol, r.folR, '#111', 2, xr, yr, 3));
  const cut = line('cut'+i, CUT_MARKS[i], '#555', 1.4, xl, yl, 4); cut.smooth = false;
  series.push(cut);
  [LEG_L[i], LEG_R[i]].forEach(p => legends.push({data:[r.ref, r.fol], orient:'vertical', left:p[0], top:p[1],
    itemWidth:27, itemHeight:2, itemGap:1, icon:'rect', padding:0, selectedMode:false,
    textStyle:{fontSize:13, fontFamily:SANS, color:'#222', lineHeight:15}}));
});

// ---------- Annotations ----------
function brace(xTip, xEnd, yTop, yMid, yBot, r, w){
  const xm = (xTip + xEnd) / 2;
  const st = {fill:null, stroke:'#000', lineWidth:w, lineCap:'round'};
  const q = (x1,y1,cx,cy,x2,y2) => ({type:'bezierCurve', z:100, silent:true, shape:{x1,y1,x2,y2,cpx1:cx,cpy1:cy}, style:st});
  const l = (x1,y1,x2,y2) => ({type:'line', z:100, silent:true, shape:{x1,y1,x2,y2}, style:st});
  return [
    q(xEnd,yTop, xm,yTop, xm,yTop+r), l(xm,yTop+r, xm,yMid-r), q(xm,yMid-r, xm,yMid, xTip,yMid),
    q(xTip,yMid, xm,yMid, xm,yMid+r), l(xm,yMid+r, xm,yBot-r), q(xm,yBot-r, xm,yBot, xEnd,yBot)
  ];
}
function txt(x, y, text, font, align){
  return {type:'text', x, y, z:100, silent:true,
    style:{text, font, fill:'#000', align:align||'center', verticalAlign:'middle', textAlign:align||'center', textVerticalAlign:'middle'}};
}
const F_SIDE = '23px ' + SERIF, F_BOX = '20px ' + SERIF;
const graphic = [
  {type:'line', z:50, silent:true, shape:{x1:706, y1:613, x2:706, y2:640}, style:{stroke:'#dcdcdc', lineWidth:1}},
  {type:'line', z:50, silent:true, shape:{x1:706, y1:640, x2:1283, y2:640}, style:{stroke:'#dcdcdc', lineWidth:1}},
  {type:'rect', z:90, silent:true, shape:{x:308, y:13, width:222, height:105, r:52}, style:{fill:'#e5e5e5', stroke:'#000', lineWidth:2.5}},
  {type:'rect', z:90, silent:true, shape:{x:750, y:7, width:225, height:104, r:52}, style:{fill:'#e5e5e5', stroke:'#000', lineWidth:2.5}},
  txt(417, 42, 'No cut by Cas9-', F_BOX),
  txt(419, 70, 'indicates chromosomal', F_BOX),
  txt(403, 96, 'bla', 'italic 20px ' + SERIF, 'right'),
  txt(404, 102, 'CTX-M-1', 'italic 14px ' + SERIF, 'left'),
  txt(860, 49, 'Cas 9 cut-', F_BOX),
  {type:'text', x:887, y:76, z:100, silent:true, style:{text:'{n|indicates }{i|bla}', align:'right', verticalAlign:'middle', textAlign:'right', textVerticalAlign:'middle',
     rich:{n:{font:F_BOX, fill:'#000'}, i:{font:'italic 20px ' + SERIF, fill:'#000'}}}},
  txt(888, 82, 'CTX-M-1', '14px ' + SERIF, 'left'),
  {type:'polygon', z:110, silent:true, shape:{points:[[835,95],[845,95],[845,107],[852,107],[840,120],[828,107],[835,107]]}, style:{fill:'#8fbbe0', stroke:'#1c2733', lineWidth:2}},
  txt(256, 102, 'A', 'bold 21px ' + SANS),
  txt(721, 89, 'B', 'bold 21px ' + SANS),
  txt(575, 165, 'P3E5.5', '16px ' + SANS, 'left'),
  txt(575, 220, 'P3E23', '16px ' + SANS, 'left'),
  txt(575, 271, 'P3E26', '16px ' + SANS, 'left'),
  txt(577, 357, 'P6E1', '16px ' + SANS, 'left'),
  txt(575, 455, 'P8E6', '16px ' + SANS, 'left'),
  txt(575, 506, 'P8E8', '16px ' + SANS, 'left'),
  txt(575, 549, 'P8E12', '16px ' + SANS, 'left'),
  ...brace(203, 227, 144, 217, 292, 10, 2.5),
  ...brace(200, 225, 333, 365, 399, 10, 2.5),
  ...brace(214, 238, 428, 503, 578, 10, 2.5),
  ...brace(1310, 1297, 122, 172, 218, 8, 2.2),
  ...brace(1310, 1297, 253, 297, 348, 8, 2.2),
  ...brace(1310, 1297, 372, 422, 470, 8, 2.2),
  ...brace(1310, 1297, 500, 550, 594, 8, 2.2),
  txt(113, 202, 'Follow up 5.5,', F_SIDE),
  txt(93, 230, '23 and 26 months', F_SIDE),
  txt(120, 354, 'Follow up', F_SIDE),
  txt(123, 381, '1 month', F_SIDE),
  txt(122, 488, 'Follow up 6, 8', F_SIDE),
  txt(122, 518, 'and 12 months', F_SIDE),
  txt(1366, 162, 'Follow up', F_SIDE), txt(1366, 189, '12 months', F_SIDE),
  txt(1370, 290, 'Follow up', F_SIDE), txt(1370, 318, '23 months', F_SIDE),
  txt(1370, 407, 'Follow up', F_SIDE), txt(1370, 435, '21 months', F_SIDE),
  txt(1362, 537, 'Follow up', F_SIDE), txt(1362, 564, '6 months', F_SIDE),
  txt(403, 660, 'Size (kb)', F_SIDE),
  txt(822, 657, 'Size (kb)', F_SIDE),
  txt(1083, 655, 'Size (kb)', F_SIDE)
];

const chart = echarts.init(document.getElementById('c'), null, {renderer:'canvas'});
chart.setOption({
  backgroundColor:'#fff', animation:false,
  grid:grids, xAxis:xAxes, yAxis:yAxes, series, legend:legends, graphic:{elements:graphic}
});
</script></body></html>
